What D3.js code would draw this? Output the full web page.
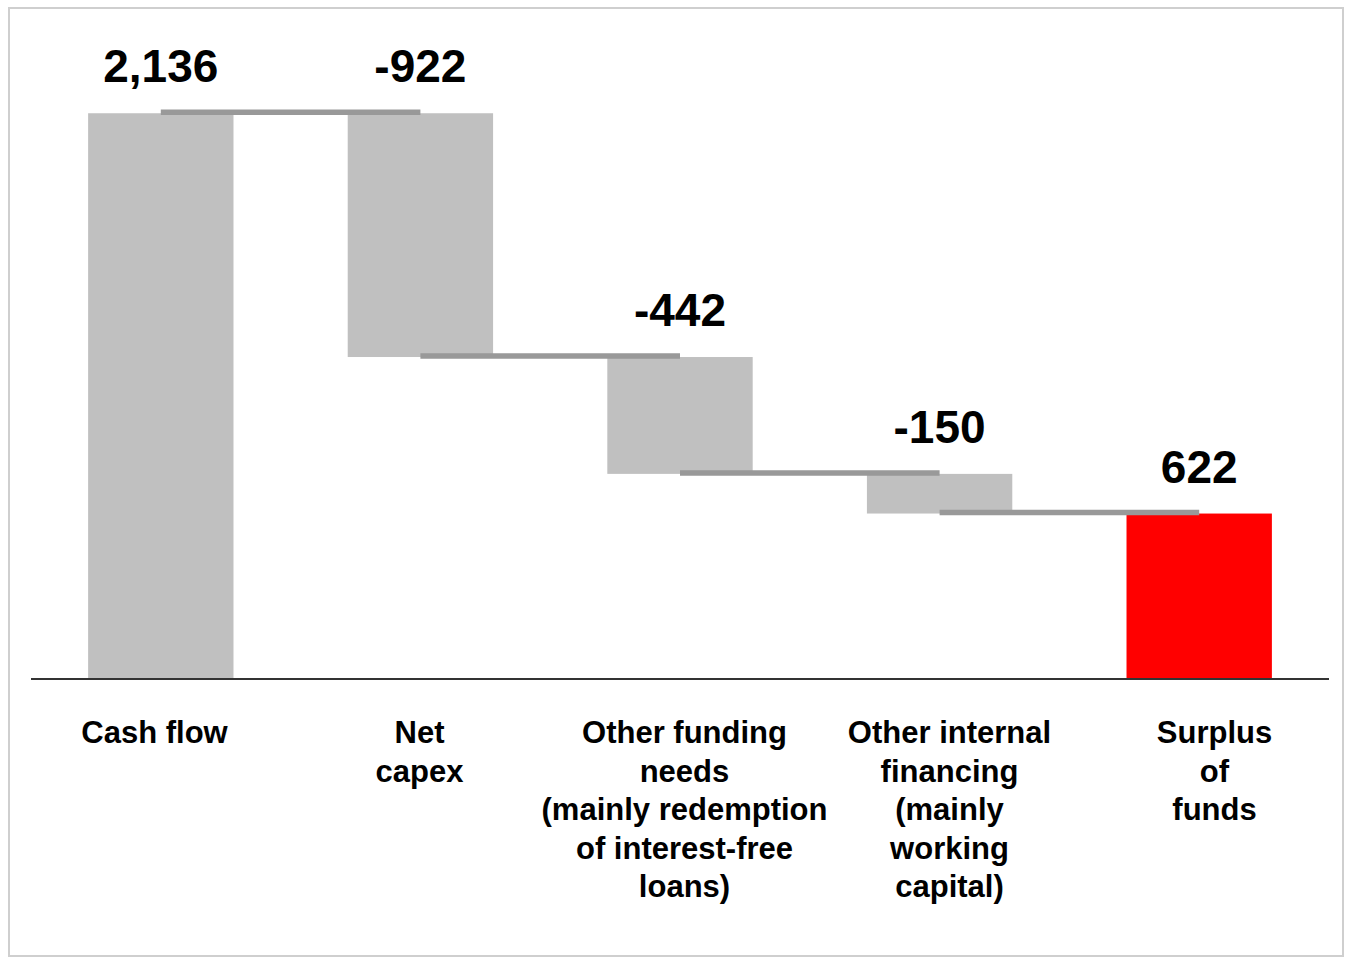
<!DOCTYPE html>
<html lang="en">
<head>
    <meta charset="UTF-8">
    <title>Surplus of funds</title>
    <script src="https://d3js.org/d3.v7.min.js"></script>
    <style>
        body {
            margin: 0;
            background-color: white;
            font-family: 'Liberation Sans', Arial, sans-serif;
        }
        .value-label {
            font-size: 46px;
            font-weight: bold;
            fill: #000;
        }
        .cat-label {
            font-size: 31px;
            font-weight: bold;
            fill: #000;
        }
    </style>
</head>
<body>
    <div id="chart"></div>

    <script>
        // Data
        const categories = ["Cash flow", "Net capex", "Other funding needs", "Other internal financing", "Surplus of funds"];
        const values = [2136, -922, -442, -150, 622];
        const kinds = ["total", "delta", "delta", "delta", "total"];
        const labelLines = [
            ["Cash flow"],
            ["Net", "capex"],
            ["Other funding", "needs", "(mainly redemption", "of interest-free", "loans)"],
            ["Other internal", "financing", "(mainly", "working", "capital)"],
            ["Surplus", "of", "funds"]
        ];
        const yMax = 2500;

        const STYLES = {
            barColor: "#c0c0c0",
            totalColor: "#ff0000",
            connectorColor: "#999999",
            axisColor: "#333333",
            borderColor: "#cfcfcf"
        };

        const width = 1351, height = 959;

        // d3 uses a unicode minus, the chart has a plain hyphen
        const fmt = v => d3.format(",")(v).replace("\u2212", "-");

        const svg = d3.select("#chart")
            .append("svg")
            .attr("width", width)
            .attr("height", height);

        // outer chart border
        svg.append("rect")
            .attr("x", 9)
            .attr("y", 8)
            .attr("width", 1334)
            .attr("height", 948)
            .attr("fill", "white")
            .attr("stroke", STYLES.borderColor)
            .attr("stroke-width", 2);

        const x = d3.scaleBand()
            .domain(categories)
            .range([31, 1329])
            .paddingInner(0.44)
            .paddingOuter(0.22);

        // category labels sit on a slightly wider grid than the bars
        const xLabel = d3.scaleBand()
            .domain(categories)
            .range([22, 1347]);

        const y = d3.scaleLinear()
            .domain([0, yMax])
            .range([678, 17]);

        // compute running totals for the waterfall
        let running = 0;
        const bars = categories.map((c, i) => {
            let start, end;
            if (kinds[i] === "total") {
                start = 0;
                end = values[i];
                running = values[i];
            } else {
                start = running;
                end = running + values[i];
                running = end;
            }
            return { cat: c, value: values[i], kind: kinds[i], start: start, end: end, level: running };
        });

        // bars
        svg.selectAll(".bar")
            .data(bars)
            .enter()
            .append("rect")
            .attr("class", "bar")
            .attr("x", d => x(d.cat))
            .attr("width", x.bandwidth())
            .attr("y", d => y(Math.max(d.start, d.end)))
            .attr("height", d => Math.abs(y(d.start) - y(d.end)))
            .attr("fill", (d, i) => i === bars.length - 1 ? STYLES.totalColor : STYLES.barColor);

        // connectors between bar centres
        const center = c => x(c) + x.bandwidth() / 2;
        svg.selectAll(".connector")
            .data(bars.slice(0, -1))
            .enter()
            .append("line")
            .attr("class", "connector")
            .attr("x1", d => center(d.cat))
            .attr("x2", (d, i) => center(bars[i + 1].cat))
            .attr("y1", d => y(d.level) - 1)
            .attr("y2", d => y(d.level) - 1)
            .attr("stroke", STYLES.connectorColor)
            .attr("stroke-width", 5.5);

        // baseline
        svg.append("line")
            .attr("x1", 31)
            .attr("x2", 1329)
            .attr("y1", y(0) + 1)
            .attr("y2", y(0) + 1)
            .attr("stroke", STYLES.axisColor)
            .attr("stroke-width", 2);

        // value labels
        svg.selectAll(".value-label")
            .data(bars)
            .enter()
            .append("text")
            .attr("class", "value-label")
            .attr("x", d => center(d.cat))
            .attr("y", d => y(Math.max(d.start, d.end)) - 31)
            .attr("text-anchor", "middle")
            .text(d => fmt(d.value));

        // category labels
        const cat = svg.selectAll(".cat-label")
            .data(bars)
            .enter()
            .append("text")
            .attr("class", "cat-label")
            .attr("text-anchor", "middle")
            .attr("x", d => xLabel(d.cat) + xLabel.bandwidth() / 2)
            .attr("y", 743);

        cat.selectAll("tspan")
            .data((d, i) => labelLines[i].map(t => ({ t: t, x: xLabel(d.cat) + xLabel.bandwidth() / 2 })))
            .enter()
            .append("tspan")
            .attr("x", d => d.x)
            .attr("dy", (d, i) => i === 0 ? 0 : 38.5)
            .text(d => d.t);
    </script>
</body>
</html>
